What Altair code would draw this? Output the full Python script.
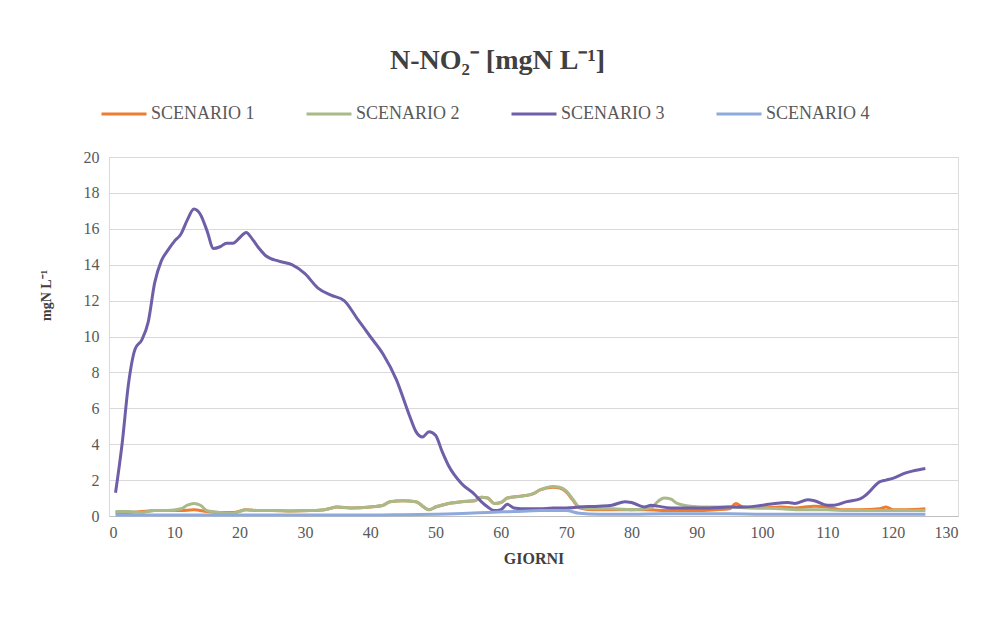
import altair as alt
import pandas as pd

# ---- data ----
SERIES = ["SCENARIO 1", "SCENARIO 2", "SCENARIO 3", "SCENARIO 4"]
COLORS = ["#ED7D31", "#A9B98A", "#6F5FA8", "#8EA9DB"]

days1 = [1, 3, 5, 7, 9, 11, 13, 15, 17, 19, 21, 23, 25, 28, 31, 33, 35, 37, 40, 42, 43, 45, 47, 48, 49, 50,
         52, 54, 56, 57, 58, 59, 60, 61, 63, 65, 66, 68, 69, 70, 71, 72, 74, 78, 82, 86, 90, 93, 95, 96, 97,
         100, 103, 105, 108, 110, 112, 115, 118, 119, 120, 122, 125]
vals1 = [0.2, 0.2, 0.25, 0.3, 0.3, 0.3, 0.35, 0.25, 0.2, 0.2, 0.35, 0.3, 0.3, 0.28, 0.3, 0.35, 0.5, 0.45, 0.5,
         0.6, 0.8, 0.85, 0.8, 0.55, 0.35, 0.5, 0.7, 0.8, 0.85, 1.05, 1.0, 0.7, 0.75, 1.0, 1.1, 1.25, 1.45, 1.6,
         1.55, 1.35, 0.9, 0.45, 0.35, 0.35, 0.35, 0.3, 0.3, 0.35, 0.4, 0.7, 0.5, 0.45, 0.5, 0.45, 0.55, 0.5,
         0.35, 0.35, 0.4, 0.5, 0.35, 0.35, 0.4]

days2 = [1, 3, 5, 7, 9, 11, 12, 13, 14, 15, 17, 19, 20, 21, 23, 25, 28, 31, 33, 35, 37, 40, 42, 43, 45, 47,
         48, 49, 50, 52, 54, 56, 57, 58, 59, 60, 61, 63, 65, 66, 68, 69, 70, 71, 72, 74, 77, 80, 83, 84, 85,
         86, 87, 89, 92, 95, 98, 100, 103, 106, 110, 113, 116, 120, 123, 125]
vals2 = [0.25, 0.25, 0.2, 0.3, 0.3, 0.4, 0.6, 0.7, 0.6, 0.3, 0.2, 0.15, 0.25, 0.35, 0.3, 0.3, 0.28, 0.3, 0.35,
         0.5, 0.45, 0.5, 0.6, 0.8, 0.85, 0.8, 0.55, 0.35, 0.5, 0.7, 0.8, 0.85, 1.05, 1.0, 0.7, 0.75, 1.0, 1.1,
         1.25, 1.45, 1.65, 1.6, 1.4, 0.95, 0.5, 0.4, 0.4, 0.35, 0.45, 0.8, 1.0, 0.95, 0.7, 0.55, 0.5, 0.5,
         0.45, 0.45, 0.4, 0.35, 0.35, 0.3, 0.3, 0.3, 0.3, 0.3]

days3 = [1, 2, 3, 4, 5, 6, 7, 8, 9, 10, 11, 12, 13, 14, 15, 16, 17, 18, 19, 20, 21, 22, 23, 24, 26, 28, 30,
         32, 34, 36, 38, 40, 42, 44, 46, 47, 48, 49, 50, 51, 52, 54, 56, 57, 58, 59, 60, 61, 62, 64, 66, 68,
         70, 72, 75, 77, 79, 80, 82, 83, 84, 86, 88, 90, 92, 95, 97, 99, 101, 102, 104, 105, 107, 108, 110,
         111, 113, 115, 116, 118, 119, 120, 122, 123, 125]
vals3 = [1.3, 4.0, 7.4, 9.3, 9.8, 10.8, 13.0, 14.2, 14.8, 15.3, 15.7, 16.5, 17.1, 16.8, 15.9, 14.9, 15.0, 15.2,
         15.2, 15.5, 15.8, 15.4, 14.9, 14.5, 14.2, 14.0, 13.5, 12.7, 12.3, 12.0, 11.0, 10.0, 9.0, 7.6, 5.6, 4.7,
         4.4, 4.7, 4.5, 3.6, 2.8, 1.8, 1.2, 0.8, 0.5, 0.3, 0.35, 0.65, 0.45, 0.4, 0.4, 0.45, 0.45, 0.5, 0.55,
         0.6, 0.8, 0.75, 0.5, 0.6, 0.55, 0.45, 0.45, 0.45, 0.45, 0.5, 0.5, 0.55, 0.65, 0.7, 0.75, 0.7, 0.9,
         0.85, 0.6, 0.6, 0.8, 0.95, 1.2, 1.9, 2.0, 2.1, 2.4, 2.5, 2.65]

days4 = [1, 10, 20, 30, 40, 45, 50, 55, 58, 62, 66, 70, 72, 75, 80, 85, 90, 95, 100, 110, 120, 125]
vals4 = [0.05, 0.05, 0.05, 0.05, 0.05, 0.07, 0.1, 0.15, 0.2, 0.25, 0.3, 0.3, 0.15, 0.1, 0.1, 0.12, 0.12,
         0.12, 0.1, 0.1, 0.1, 0.1]

X_TICKS = list(range(0, 131, 10))
Y_TICKS = list(range(0, 21, 2))

rows = []
for name, ds, vs in zip(SERIES, [days1, days2, days3, days4], [vals1, vals2, vals3, vals4]):
    for i, (d, v) in enumerate(zip(ds, vs)):
        rows.append({"series": name, "giorno": d, "valore": v, "order": i})
df = pd.DataFrame(rows)

SERIF = "Liberation Serif"

chart = alt.Chart(df).mark_line(strokeWidth=3, interpolate="monotone").encode(
    x=alt.X("giorno:Q",
            scale=alt.Scale(domain=[0, 130], nice=False),
            axis=alt.Axis(values=X_TICKS, title="GIORNI", grid=False, ticks=False,
                          domainColor="#BFBFBF", labelFont=SERIF, labelFontSize=16,
                          labelColor="#595959", labelPadding=8, titleFont=SERIF,
                          titleFontSize=16, titleFontWeight="bold", titleColor="#404040",
                          titlePadding=10)),
    y=alt.Y("valore:Q",
            scale=alt.Scale(domain=[0, 20], nice=False),
            axis=alt.Axis(values=Y_TICKS, title="mgN L⁻¹", grid=True, gridColor="#D9D9D9",
                          ticks=False, domainColor="#D9D9D9", labelFont=SERIF,
                          labelFontSize=16, labelColor="#595959", labelPadding=10,
                          titleFont=SERIF, titleFontSize=14, titleFontWeight="bold",
                          titleColor="#404040", titleX=-56, titleY=138)),
    color=alt.Color("series:N",
                    scale=alt.Scale(domain=SERIES, range=COLORS),
                    legend=alt.Legend(title=None, orient="none", legendX=-9, legendY=-67,
                                      direction="horizontal", columns=4, symbolType="stroke",
                                      symbolSize=2025, symbolStrokeWidth=3, labelFont=SERIF,
                                      labelFontSize=18, labelColor="#595959", labelOffset=3,
                                      columnPadding=45)),
    order="order:Q",
).properties(
    width=849,
    height=359,
    title=alt.TitleParams("N-NO₂⁻ [mgN L⁻¹]", font=SERIF, fontSize=28, fontWeight="bold",
                          color="#404040", anchor="middle", dx=-36, offset=15),
    autosize=alt.AutoSizeParams(type="none"),
    padding={"left": 101, "top": 149, "right": 16, "bottom": 113},
).configure_view(stroke=None).configure(background="white")

chart.save("out.html", embed_options={"renderer": "svg", "actions": False})
